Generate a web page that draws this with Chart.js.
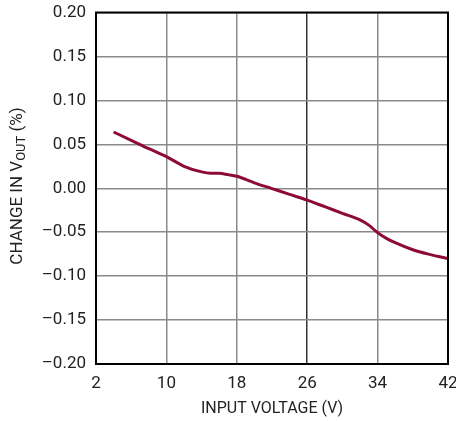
<!DOCTYPE html>
<html lang="en">
  <head>
    <meta charset="UTF-8" />
    <title>Change in Vout vs Input Voltage</title>
    <script src="https://cdn.jsdelivr.net/npm/chart.js"></script>
    <style>
      body {
        margin: 0;
        background: #fff;
      }
      #wrap {
        width: 456px;
        height: 421px;
      }
    </style>
  </head>
  <body>
    <div id="wrap"><canvas id="vinChart"></canvas></div>

    <script>
      // values
      const inputVoltage = [4, 6, 8, 10, 12, 14, 15, 16, 17, 18, 20, 22, 24, 26, 28, 30, 32, 33, 34, 35, 36, 38, 40, 42];
      const changeVout = [
        0.064, 0.0546, 0.045, 0.036, 0.025, 0.0186, 0.017, 0.017, 0.0155, 0.0136, 0.0062, -0.0004,
        -0.007, -0.0135, -0.021, -0.0285, -0.036, -0.042, -0.0505, -0.057, -0.062, -0.07, -0.0755, -0.08,
      ];
      const xTicks = [2, 10, 18, 26, 34, 42];
      const yTicks = [-0.2, -0.15, -0.1, -0.05, 0, 0.05, 0.1, 0.15, 0.2];

      const fontFamily = "Roboto, 'Liberation Sans', sans-serif";

      const points = inputVoltage.map((v, i) => ({ x: v, y: changeVout[i] }));

      // frame + axis titles (y title needs a subscript)
      const framePlugin = {
        id: "frame",
        afterDraw(chart) {
          const { ctx, chartArea } = chart;
          ctx.save();
          ctx.strokeStyle = "#000";
          ctx.lineWidth = 2;
          ctx.strokeRect(chartArea.left, chartArea.top, chartArea.right - chartArea.left, chartArea.bottom - chartArea.top);

          ctx.fillStyle = "#222";
          ctx.textBaseline = "middle";
          ctx.textAlign = "center";
          ctx.font = "16px " + fontFamily;
          ctx.fillText("INPUT VOLTAGE (V)", (chartArea.left + chartArea.right) / 2, 409);

          // rotated y title
          const big = "17px " + fontFamily;
          const small = "13px " + fontFamily;
          const parts = [
            { t: "CHANGE IN V", f: big, dy: 0 },
            { t: "OUT", f: small, dy: 4 },
            { t: " (%)", f: big, dy: 0 },
          ];
          let total = 0;
          parts.forEach((p) => {
            ctx.font = p.f;
            p.w = ctx.measureText(p.t).width;
            total += p.w;
          });
          ctx.translate(18, 186);
          ctx.rotate(-Math.PI / 2);
          ctx.textAlign = "left";
          let x = -total / 2;
          parts.forEach((p) => {
            ctx.font = p.f;
            ctx.fillText(p.t, x, p.dy);
            x += p.w;
          });
          ctx.restore();
        },
      };

      new Chart(document.getElementById("vinChart"), {
        type: "line",
        data: {
          datasets: [
            {
              data: points,
              borderColor: "#8c0c34",
              borderWidth: 3,
              pointRadius: 0,
              tension: 0.4,
              cubicInterpolationMode: "monotone",
            },
          ],
        },
        options: {
          responsive: true,
          maintainAspectRatio: false,
          animation: false,
          layout: { padding: { top: 12.5, right: 8, left: 0, bottom: 0 } },
          plugins: { legend: { display: false }, tooltip: { enabled: false } },
          scales: {
            x: {
              type: "linear",
              min: 2,
              max: 42,
              afterBuildTicks: (s) => {
                s.ticks = xTicks.map((v) => ({ value: v }));
              },
              afterFit: (s) => {
                s.height = 57;
                s.paddingLeft = 0;
                s.paddingRight = 0;
              },
              grid: {
                drawTicks: false,
                lineWidth: 1.5,
                color: (c) => (c.tick && c.tick.value === 26 ? "#333" : "#8a8a8a"),
              },
              border: { display: false },
              ticks: {
                padding: 10,
                color: "#222",
                font: { family: fontFamily, size: 17 },
              },
            },
            y: {
              min: -0.2,
              max: 0.2,
              afterBuildTicks: (s) => {
                s.ticks = yTicks.map((v) => ({ value: v }));
              },
              afterFit: (s) => {
                s.width = 96;
                s.paddingTop = 0;
                s.paddingBottom = 0;
              },
              grid: { drawTicks: false, lineWidth: 1.5, color: "#8a8a8a" },
              border: { display: false },
              ticks: {
                padding: 10,
                color: "#222",
                font: { family: fontFamily, size: 17 },
                callback: (v) => {
                  const s = Math.abs(v).toFixed(2);
                  return v < -1e-9 ? "\u2013" + s : s;
                },
              },
            },
          },
        },
        plugins: [framePlugin],
      });
    </script>
  </body>
</html>
